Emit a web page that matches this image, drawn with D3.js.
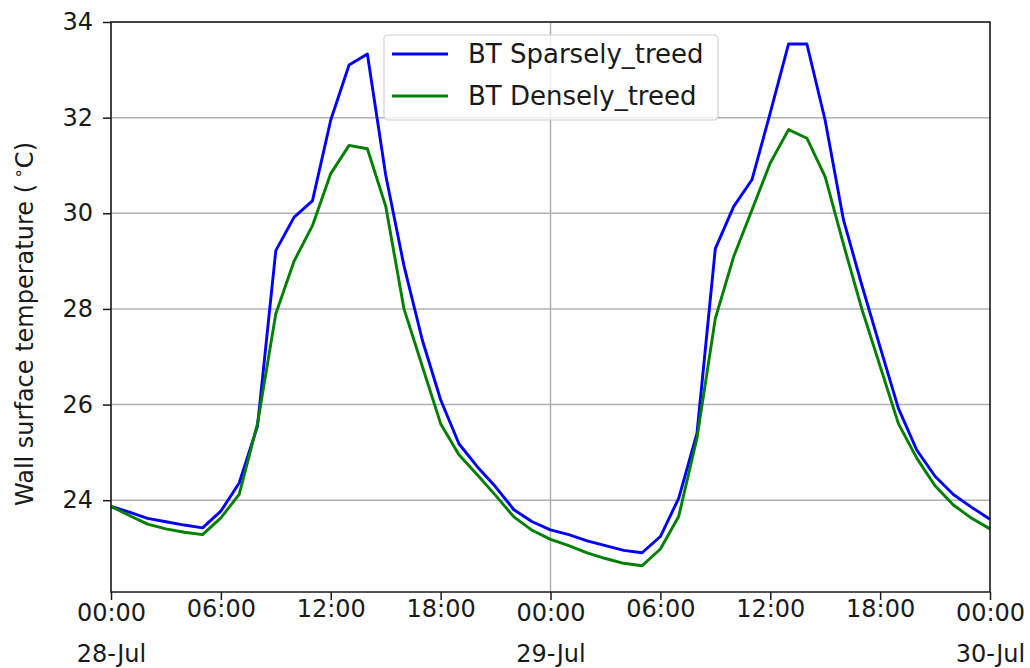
<!DOCTYPE html>
<html>
<head>
<meta charset="utf-8">
<script src="https://cdn.jsdelivr.net/npm/d3@7"></script>
<style>
  html, body { margin: 0; padding: 0; background: #fff; }
  svg { display: block; font-family: "DejaVu Sans", sans-serif; }
</style>
</head>
<body>
<svg id="chart" width="1030" height="668"></svg>
<script>
// ---- data (hourly, 28-Jul 00:00 to 30-Jul 00:00) ----
const startTime = Date.UTC(2021, 6, 28, 0, 0);
const seriesNames = ["BT Sparsely_treed", "BT Densely_treed"];
const seriesColors = ["#0000ff", "#008000"];
const sparselyTreed = [
  23.87, 23.75, 23.62, 23.55, 23.48, 23.42, 23.77, 24.36, 25.55, 29.22,
  29.92, 30.26, 31.95, 33.10, 33.33, 30.80, 28.90, 27.35, 26.10, 25.18,
  24.70, 24.28, 23.80, 23.55, 23.38, 23.28, 23.15, 23.05, 22.95, 22.90,
  23.24, 24.04, 25.40, 29.26, 30.14, 30.70, 32.10, 33.54, 33.54, 31.94,
  29.86, 28.50, 27.20, 25.92, 25.05, 24.50, 24.12, 23.85, 23.60
];
const denselyTreed = [
  23.87, 23.68, 23.50, 23.40, 23.33, 23.28, 23.63, 24.12, 25.60, 27.90,
  29.00, 29.74, 30.83, 31.42, 31.35, 30.15, 28.00, 26.80, 25.60, 24.95,
  24.53, 24.10, 23.65, 23.37, 23.18, 23.05, 22.90, 22.78, 22.68, 22.63,
  22.98, 23.66, 25.30, 27.80, 29.09, 30.07, 31.05, 31.75, 31.57, 30.76,
  29.35, 28.00, 26.80, 25.60, 24.88, 24.30, 23.90, 23.62, 23.40
];
const yTicks = [24, 26, 28, 30, 32, 34];
const xTickHours = [0, 6, 12, 18, 24, 30, 36, 42, 48];
const xTickLabels = ["00:00\n28-Jul", "06:00", "12:00", "18:00", "00:00\n29-Jul",
                     "06:00", "12:00", "18:00", "00:00\n30-Jul"];
const xMajorHours = [0, 24, 48];

// ---- layout ----
const svg = d3.select("#chart");
const L = 111, R = 990, T = 22, B = 592;
const HOUR = 3600 * 1000;
const toDate = h => new Date(startTime + h * HOUR);

const x = d3.scaleUtc().domain([toDate(0), toDate(48)]).range([L, R]);
const y = d3.scaleLinear().domain([22.08, 34]).range([B, T]);

const FS = 24;
const INK = "#1a1a1a";

// grid
const grid = svg.append("g");
grid.selectAll("line.h").data(yTicks).join("line")
  .attr("x1", L).attr("x2", R)
  .attr("y1", d => y(d)).attr("y2", d => y(d))
  .attr("stroke", "#b0b0b0").attr("stroke-width", 1.5);
grid.selectAll("line.v").data(xMajorHours).join("line")
  .attr("x1", d => x(toDate(d))).attr("x2", d => x(toDate(d)))
  .attr("y1", T).attr("y2", B)
  .attr("stroke", "#b0b0b0").attr("stroke-width", 1.5);

// lines
const lineGen = d3.line().x((d, i) => x(toDate(i))).y(d => y(d));
[sparselyTreed, denselyTreed].forEach((s, k) => {
  svg.append("path").datum(s)
    .attr("fill", "none").attr("stroke", seriesColors[k])
    .attr("stroke-width", 2.9).attr("stroke-linejoin", "round")
    .attr("d", lineGen);
});

// axes
const yAxis = d3.axisLeft(y).tickValues(yTicks).tickSize(8).tickPadding(10)
  .tickFormat(d3.format("d"));
const gy = svg.append("g").attr("transform", `translate(${L},0)`).call(yAxis);
gy.select(".domain").remove();
gy.selectAll("text").attr("font-size", FS).attr("fill", INK)
  .attr("font-family", "DejaVu Sans");
gy.selectAll("line").attr("stroke", INK).attr("stroke-width", 1.5);

const xAxis = d3.axisBottom(x).tickValues(xTickHours.map(toDate)).tickSize(8).tickPadding(8)
  .tickFormat(() => "");
const gx = svg.append("g").attr("transform", `translate(0,${B})`).call(xAxis);
gx.select(".domain").remove();
gx.selectAll("line").attr("stroke", INK).attr("stroke-width", 1.5);
gx.selectAll(".tick text").each(function(d, i) {
  const t = d3.select(this).text(null).attr("font-size", FS).attr("fill", INK)
    .attr("font-family", "DejaVu Sans").attr("dy", null).attr("y", 0);
  const parts = xTickLabels[i].split("\n");
  const isMajor = parts.length > 1;
  parts.forEach((p, j) => {
    t.append("tspan").attr("x", 0)
      .attr("y", isMajor ? 29 + j * 41 : 25)
      .text(p);
  });
});

// frame
svg.append("rect").attr("x", L).attr("y", T).attr("width", R - L).attr("height", B - T)
  .attr("fill", "none").attr("stroke", INK).attr("stroke-width", 1.5);

// y label
svg.append("text")
  .attr("transform", `translate(33,${(T + B) / 2 + 17}) rotate(-90)`)
  .attr("text-anchor", "middle").attr("font-size", FS).attr("fill", INK)
  .text("Wall surface temperature (")
  .call(t => {
    t.append("tspan").attr("font-size", FS * 0.7).attr("dy", -9).text(" \u2218");
    t.append("tspan").attr("dy", 9).text("C)");
  });

// legend
const lg = svg.append("g");
lg.append("rect").attr("x", 384).attr("y", 35).attr("width", 334).attr("height", 85)
  .attr("rx", 4).attr("fill", "#fff").attr("fill-opacity", 0.8)
  .attr("stroke", "#d0d0d0").attr("stroke-width", 1.2);
seriesNames.forEach((n, k) => {
  const yy = 54 + k * 42;
  lg.append("line").attr("x1", 392).attr("x2", 448).attr("y1", yy).attr("y2", yy)
    .attr("stroke", seriesColors[k]).attr("stroke-width", 2.9);
  lg.append("text").attr("x", 468).attr("y", yy + 9).attr("font-size", 26)
    .attr("fill", INK).text(n);
});
</script>
</body>
</html>
